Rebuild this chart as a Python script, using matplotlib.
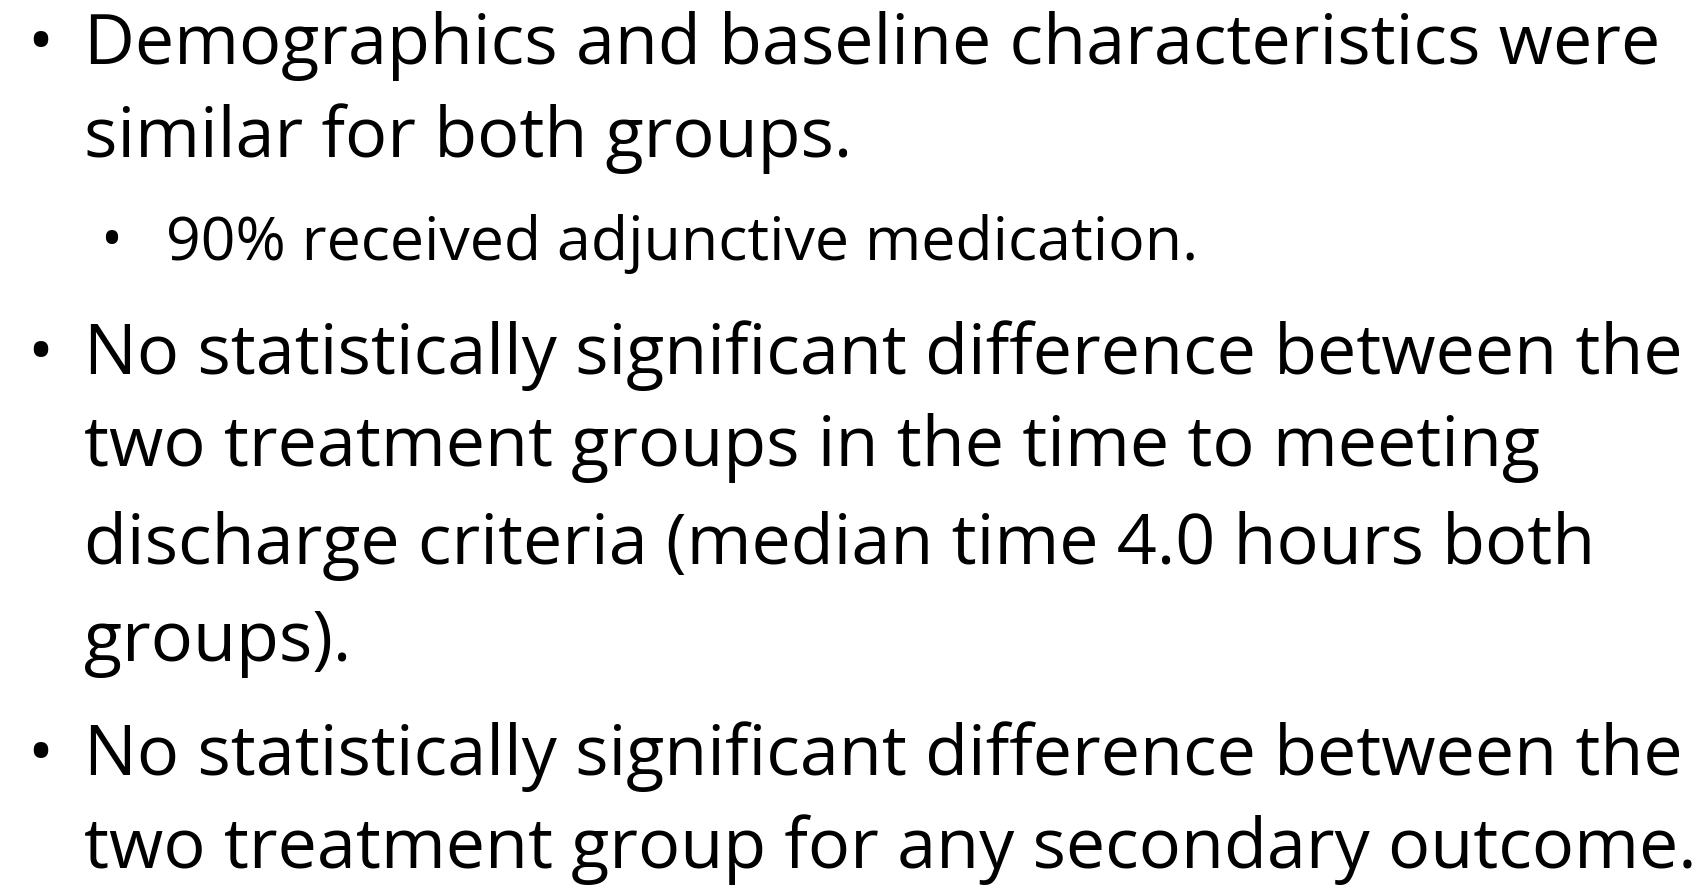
import matplotlib
matplotlib.use("Agg")
import matplotlib.pyplot as plt

# slide text, one entry per rendered line: (level, starts_bullet, text)
lines = [
    (0, True, "Demographics and baseline characteristics were"),
    (0, False, "similar for both groups."),
    (1, True, "90% received adjunctive medication."),
    (0, True, "No statistically significant difference between the"),
    (0, False, "two treatment groups in the time to meeting"),
    (0, False, "discharge criteria (median time 4.0 hours both"),
    (0, False, "groups)."),
    (0, True, "No statistically significant difference between the"),
    (0, False, "two treatment group for any secondary outcome."),
]
# vertical centre of each line, in pixels from the top
line_y = [46, 139, 244, 356, 448, 546, 643, 757, 850]

W, H = 1702, 886
fig = plt.figure(figsize=(W / 100, H / 100), dpi=100)
ax = fig.add_axes([0, 0, 1, 1])
ax.set_xlim(0, W)
ax.set_ylim(H, 0)
ax.axis("off")

font = "Open Sans"
sizes = {0: 50.5, 1: 43.8}
bullet_sizes = {0: 50, 1: 42}
text_x = {0: 84, 1: 166}
bullet_x = {0: 27, 1: 100}

for (level, bullet, txt), y in zip(lines, line_y):
    if bullet:
        ax.text(bullet_x[level], y, "\u2022", fontsize=bullet_sizes[level], family=font,
                va="center", ha="left", color="black")
    ax.text(text_x[level], y, txt, fontsize=sizes[level], family=font,
            va="center", ha="left", color="black")

fig.savefig("out.png", dpi=100, facecolor="white")
